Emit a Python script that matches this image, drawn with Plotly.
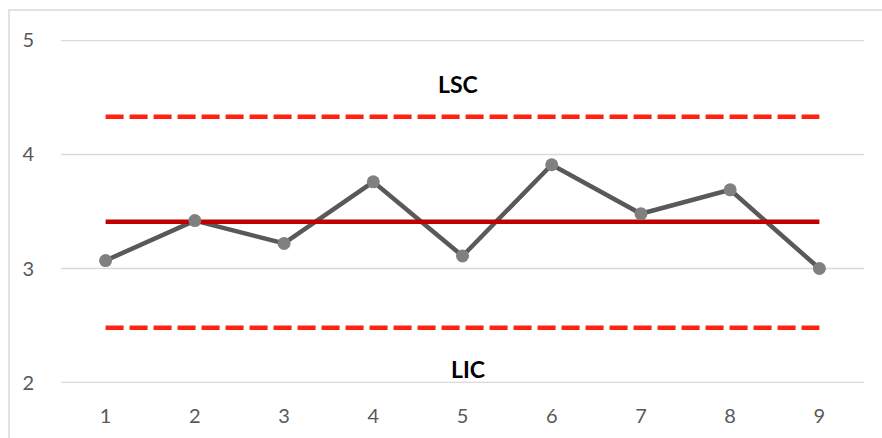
import plotly.graph_objects as go

# Control chart data
samples = [1, 2, 3, 4, 5, 6, 7, 8, 9]
values = [3.07, 3.42, 3.22, 3.76, 3.11, 3.91, 3.48, 3.69, 3.00]
center_value = 3.41
lsc_value = 4.33
lic_value = 2.48
y_ticks = [2, 3, 4, 5]

center = [center_value] * len(samples)
lsc = [lsc_value] * len(samples)
lic = [lic_value] * len(samples)

W, H = 882, 438
ML, MR, MT, MB = 61, 18, 40, 55

fig = go.Figure()

# horizontal gridlines
for yv in y_ticks:
    fig.add_shape(type="line", xref="paper", yref="y", x0=0, x1=1, y0=yv, y1=yv,
                  line=dict(color="#D9D9D9", width=1.5), layer="below")

# measured series (line underneath the control lines)
fig.add_trace(go.Scatter(x=samples, y=values, mode="lines",
                         line=dict(color="#595959", width=4.5), hoverinfo="skip"))
# limits and centre line
fig.add_trace(go.Scatter(x=samples, y=lsc, mode="lines",
                         line=dict(color="#FF2211", width=4.5, dash="18px,6px")))
fig.add_trace(go.Scatter(x=samples, y=lic, mode="lines",
                         line=dict(color="#FF2211", width=4.5, dash="18px,6px")))
fig.add_trace(go.Scatter(x=samples, y=center, mode="lines",
                         line=dict(color="#C00000", width=4.5)))
# markers on top
fig.add_trace(go.Scatter(x=samples, y=values, mode="markers",
                         marker=dict(color="#808080", size=13, line=dict(width=0))))

label_font = dict(family="Lato, Liberation Sans, sans-serif", size=23, color="#000000")
fig.add_annotation(x=4.95, y=4.62, text="<b>LSC</b>", showarrow=False, font=label_font)
fig.add_annotation(x=5.06, y=2.12, text="<b>LIC</b>", showarrow=False, font=label_font)

# outer chart border
pw, ph = W - ML - MR, H - MT - MB
fig.add_shape(type="rect", xref="paper", yref="paper",
              x0=(9 - ML) / pw, x1=(W + 10 - ML) / pw,
              y0=-(H + 10 - MT - ph) / ph, y1=1 + (MT - 10) / ph,
              line=dict(color="#D9D9D9", width=1.5), layer="below")

tick_font = dict(family="Lato, Liberation Sans, sans-serif", size=20, color="#595959")
fig.update_layout(
    width=W, height=H,
    margin=dict(l=ML, r=MR, t=MT, b=MB),
    paper_bgcolor="white", plot_bgcolor="white",
    showlegend=False,
    xaxis=dict(range=[0.5, 9.5], tickvals=samples, ticktext=[str(s) for s in samples],
               showgrid=False, zeroline=False, showline=False, ticks="",
               tickfont=tick_font, ticklabelstandoff=19, fixedrange=True),
    yaxis=dict(range=[1.996, 5.004], tickvals=y_ticks, showgrid=False,
               zeroline=False, showline=False, ticks="",
               tickfont=tick_font, ticklabelstandoff=26, fixedrange=True),
)

fig.write_html("out.html", config={"displayModeBar": False})
